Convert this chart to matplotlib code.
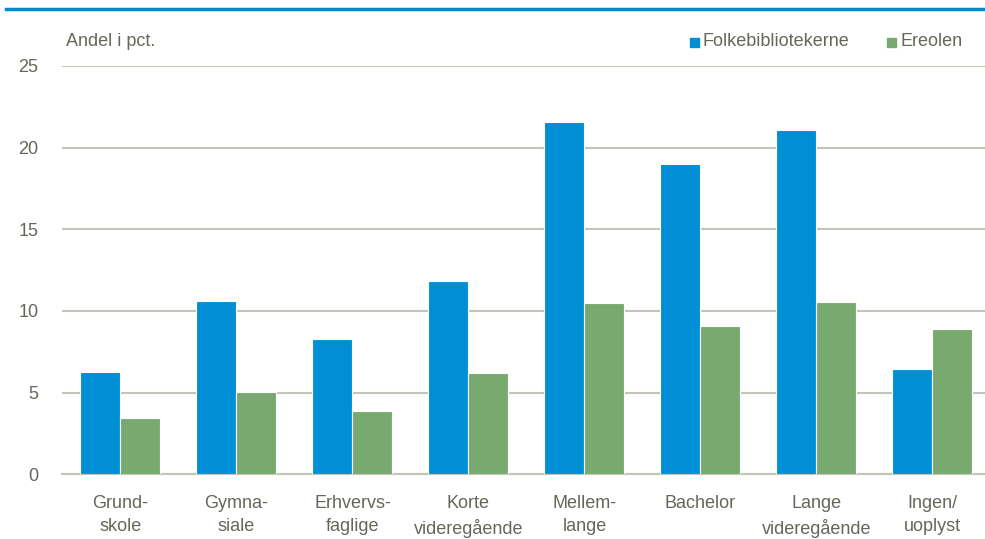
import numpy as np
import matplotlib.pyplot as plt
from matplotlib.lines import Line2D
from matplotlib.patches import Rectangle

categories = ["Grund-\nskole", "Gymna-\nsiale", "Erhvervs-\nfaglige", "Korte\nvideregående",
              "Mellem-\nlange", "Bachelor", "Lange\nvideregående", "Ingen/\nuoplyst"]
folkebib = [6.28, 10.61, 8.29, 11.83, 21.57, 19.0, 21.08, 6.45]
ereolen = [3.45, 5.02, 3.9, 6.19, 10.48, 9.1, 10.54, 8.88]
yticks = [0, 5, 10, 15, 20, 25]

blue = "#008fd5"
green = "#78aa6f"
txt = "#66665a"
grid = "#c4c4b8"

plt.rcParams['font.family'] = ['Liberation Sans Narrow', 'Liberation Sans', 'DejaVu Sans']
fs = 13

fig = plt.figure(figsize=(9.85, 5.39), dpi=100)
ax = fig.add_axes([62/985, 1-474.3/539, 923/985, (474.3-66)/539])

x = np.arange(len(categories))
w = 0.345
ax.bar(x - w/2, folkebib, w, color=blue, edgecolor="white", linewidth=0.8, zorder=3)
ax.bar(x + w/2, ereolen, w, color=green, edgecolor="white", linewidth=0.8, zorder=3)

ax.set_xlim(-0.504, -0.504 + 923/116)
ax.set_ylim(0, 25)
ax.set_yticks(yticks)
ax.yaxis.grid(True, color=grid, linewidth=1.5, zorder=0)
ax.set_axisbelow(True)
for s in ["top", "right", "left"]:
    ax.spines[s].set_visible(False)
ax.spines["bottom"].set_color(grid)
ax.spines["bottom"].set_linewidth(1.5)
ax.tick_params(axis="y", length=0, pad=17, labelsize=fs, labelcolor=txt)
ax.set_xticks(x)
ax.set_xticklabels(categories, linespacing=1.45)
ax.tick_params(axis="x", length=0, pad=15, labelsize=fs, labelcolor=txt)

# top rule
fig.add_artist(Line2D([6/985, 1], [1-8.5/539, 1-8.5/539], color="#0089cf", linewidth=2.5))

fig.text(66/985, 1-42/539, "Andel i pct.", fontsize=fs, color=txt, va="center", ha="left")

# legend
fig.add_artist(Rectangle((690/985, 1-47/539), 9/985, 9/539, color=blue, transform=fig.transFigure))
fig.text(703/985, 1-42/539, "Folkebibliotekerne", fontsize=fs, color=txt, va="center", ha="left")
fig.add_artist(Rectangle((887/985, 1-47/539), 9/985, 9/539, color=green, transform=fig.transFigure))
fig.text(900/985, 1-42/539, "Ereolen", fontsize=fs, color=txt, va="center", ha="left")

fig.savefig("out.png", dpi=100)
